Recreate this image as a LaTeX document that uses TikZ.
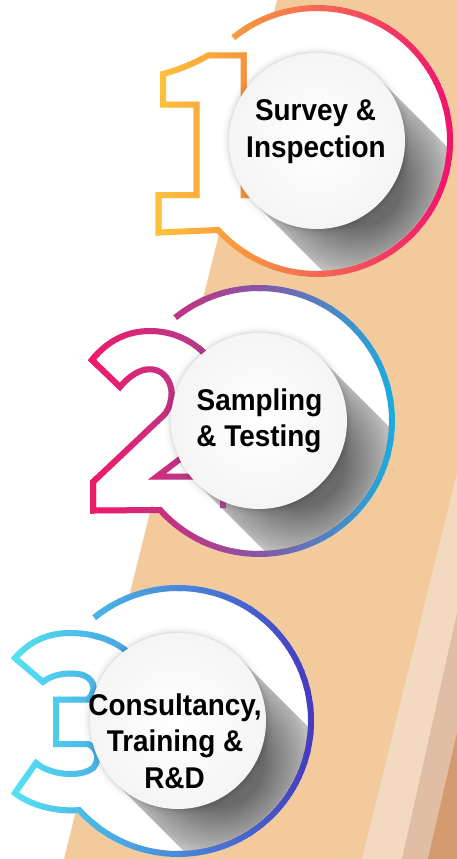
\documentclass[tikz,border=0pt]{standalone}
\usepackage{fontspec}
\setmainfont{Liberation Sans}[FakeStretch=0.93]
\definecolor{bandtan}{HTML}{F3CA9B}
\definecolor{stripeA}{HTML}{F3D9BF}
\definecolor{stripeB}{HTML}{E0BDA3}
\definecolor{stripeC}{HTML}{D49B6F}
\definecolor{oA}{HTML}{FCC33A}
\definecolor{oB}{HTML}{F8943F}
\definecolor{oC}{HTML}{F66656}
\definecolor{oD}{HTML}{EF0F6F}
\definecolor{pA}{HTML}{EF196B}
\definecolor{pB}{HTML}{B43C8C}
\definecolor{pC}{HTML}{8458A6}
\definecolor{pD}{HTML}{4D86C4}
\definecolor{pE}{HTML}{1BAEDF}
\definecolor{bA}{HTML}{55E0F2}
\definecolor{bB}{HTML}{4AB4E6}
\definecolor{bC}{HTML}{4A88DA}
\definecolor{bD}{HTML}{4860CC}
\definecolor{bE}{HTML}{4636BC}
\definecolor{sdark}{HTML}{6A6A6A}
\definecolor{smid}{HTML}{ADADAD}
\definecolor{slight}{HTML}{EBEBEB}
\definecolor{swhite}{HTML}{F8F8F8}
\definecolor{rimtan}{HTML}{CDB59C}
\pgfdeclareradialshading{longshadow}{\pgfpoint{0bp}{0bp}}{color(0bp)=(sdark); color(5.6bp)=(sdark); color(10.6bp)=(smid); color(14bp)=(slight); color(50bp)=(swhite)}
% ring + numeral outlines (pixel coordinates)
\newcommand\numpathA{(317,141) ++(-129:133) arc[start angle=-129, end angle=138, radius=133] -- (158.5,232.5) -- (158.5,195) -- (196.5,195) -- (196.5,104.5) -- (163,104.5) -- (163,74) .. controls (178,70) and (195,63) .. (208,55.5) -- (243.5,55.5) -- (243.5,195) -- (300,195)}
\newcommand\numpathB{(259,421) ++(-129:133) arc[start angle=-129, end angle=138, radius=133] -- (93,510.5) -- (93,482) -- (165,414) .. controls (172,404) and (174,390) .. (168,380) .. controls (160,366) and (140,363) .. (120,387) -- (92,360) .. controls (108,340) and (128,331) .. (150,331) .. controls (172,331) and (192,340) .. (206,355) (205,440) -- (157,476.5) -- (223,476.5) -- (223,508)}
\newcommand\numpathC{(178,721) ++(-129:133) arc[start angle=-129, end angle=138, radius=133] .. controls (55,812) and (30,805) .. (15,793) -- (36,763) .. controls (50,775) and (80,778) .. (93,768) .. controls (100,760) and (98,748) .. (88,744) -- (56,744) -- (56,699.5) -- (88,699.5) .. controls (98,690) and (94,676) .. (78,674) .. controls (63,672) and (50,676) .. (43,682) -- (15,658) .. controls (30,641) and (48,633) .. (70,633) .. controls (95,633) and (117,641) .. (132,656)}
% gradient stroke by vertical strips
\newcommand\gradstrokes[2]{%
  \foreach \xa/\xb/\ca/\cb in {#2}{%
    \pgfmathtruncatemacro\nstrips{ceil((\xb-\xa)/3)}%
    \foreach \i in {0,...,\nstrips}{%
      \pgfmathsetmacro\xs{\xa+3*\i}%
      \pgfmathtruncatemacro\pc{min(100,max(0,100*(3*\i)/(\xb-\xa)))}%
      \begin{scope}
        \clip (\xs-0.3,-10) rectangle (\xs+3.3,870);
        \draw[ringline, draw={\cb!\pc!\ca}] #1;
      \end{scope}
    }%
  }%
}
\begin{document}
\begin{tikzpicture}[x=1pt,y=-1pt,
  ringline/.style={line width=6pt, line join=miter, miter limit=4},
  lbl/.style={font=\fontsize{30}{36}\selectfont\bfseries, text=black, inner sep=0pt, anchor=base}]
\useasboundingbox (0,0) rectangle (457,859);
\fill[white] (0,0) rectangle (457,859);
\fill[bandtan] (277,0) -- (457,0) -- (457,859) -- (64,859) -- cycle;
\fill[stripeA] (457,473) -- (457,859) -- (362,859) -- cycle;
\fill[stripeB] (457,613) -- (457,859) -- (402,859) -- cycle;
\fill[stripeC] (457,733) -- (457,859) -- (428,859) -- cycle;
% white discs and long shadows
\foreach \cx/\cy in {317/141,259/421,178/721}{
  \fill[white] (\cx,\cy) circle (136);
  \begin{scope}
    \clip (\cx,\cy) circle (130.6);
    \clip (\cx+62.2,\cy-62.2) -- (\cx+312.2,\cy+187.8) -- (\cx+187.8,\cy+312.2) -- (\cx-62.2,\cy+62.2) -- cycle;
    \shade[shading=longshadow] (\cx-160,\cy-160) rectangle (\cx+240,\cy+240);
    \draw[rimtan, line width=1.2pt] (\cx,\cy) circle (130);
  \end{scope}
}
% rings and numerals
\gradstrokes{\numpathA}{100/155/oA/oA,155/245/oA/oB,245/320/oB/oC,320/456/oC/oD}
\gradstrokes{\numpathB}{80/90/pA/pA,90/200/pA/pB,200/259/pB/pC,259/330/pC/pD,330/398/pD/pE}
\gradstrokes{\numpathC}{4/15/bA/bA,15/95/bA/bB,95/178/bB/bC,178/250/bC/bD,250/318/bD/bE}
% inner circles
\foreach \cx/\cy in {317/141,259/421,178/721}{
  \foreach \rr/\op in {95/0.012,93/0.02,91/0.03,89.5/0.045}{
    \fill[black, opacity=\op] (\cx,\cy) circle (\rr);
  }
  \shade[inner color=white, outer color=black!4] (\cx,\cy) circle (88);
}
% labels
\node[lbl] (s1a) at (315.5,120.7) {Survey \&};
\node[lbl] (s1b) at (316,157.3) {Inspection};
\node[lbl] (s2a) at (259.5,410) {Sampling};
\node[lbl] (s2b) at (259,446.7) {\& Testing};
\node[lbl] (s3a) at (175,715.7) {Consultancy,};
\node[lbl] (s3b) at (175,751.7) {Training \&};
\node[lbl] (s3c) at (174.5,788.3) {R\&D};
\end{tikzpicture}
\end{document}
